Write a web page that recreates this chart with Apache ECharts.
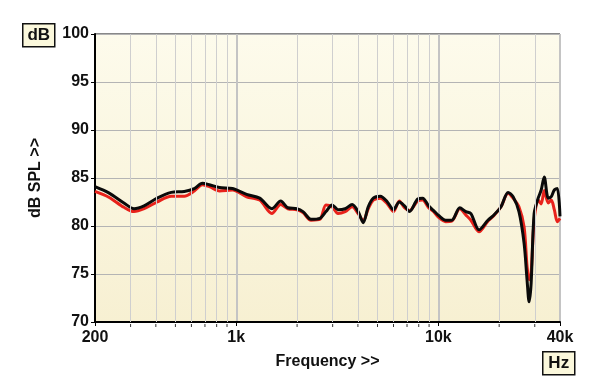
<!DOCTYPE html>
<html>
<head>
<meta charset="utf-8">
<script src="https://cdn.jsdelivr.net/npm/echarts@6/dist/echarts.min.js"></script>
<style>
  html, body { margin: 0; padding: 0; background: #fff; }
  #chart { width: 600px; height: 389px; }
</style>
</head>
<body>
<div id="chart"></div>
<script>
// frequency points (Hz)
var freqs = [200, 234, 278, 312, 350, 406, 477, 553, 620, 680, 736, 826, 959, 1125, 1306, 1500,
    1660, 1800, 1995, 2138, 2344, 2595, 2780, 2980, 3190, 3458, 3747, 4010, 4250, 4500, 4766,
    5164, 5596, 5995, 6412, 6796, 7200, 7890, 8360, 8950, 9480, 10030, 10870, 11650, 12770,
    13680, 14490, 15890, 17590, 18850, 20420, 22130, 23440, 25060, 26570, 27480, 28130, 28780,
    29790, 31190, 32290, 33420, 34990, 36220, 37490, 38810, 40000];

var blackDb = [84.1, 83.45, 82.4, 81.8, 82.1, 82.9, 83.5, 83.6, 83.9, 84.45, 84.3, 84.0, 83.9, 83.3, 82.9, 81.8,
    82.6, 81.9, 81.8, 81.5, 80.7, 80.8, 81.5, 82.2, 81.7, 81.8, 82.25, 81.5, 80.35, 82.0, 82.9,
    83.1, 82.5, 81.7, 82.5, 82.1, 81.5, 82.8, 82.9, 82.1, 81.6, 81.1, 80.6, 80.6, 81.9,
    81.5, 81.3, 79.6, 80.6, 81.15, 82.0, 83.5, 83.05, 81.5, 78.2, 74.4, 72.1, 74.0,
    81.3, 82.9, 83.75, 85.1, 82.9, 83.05, 83.75, 83.9, 81.0];

var redDb = [83.6, 83.0, 81.95, 81.5, 81.8, 82.5, 83.1, 83.1, 83.65, 84.3, 84.1, 83.65, 83.75, 83.05, 82.7, 81.3,
    82.25, 81.8, 81.7, 81.4, 80.6, 80.7, 82.2, 82.0, 81.3, 81.5, 82.0, 81.3, 80.55, 81.8, 82.7,
    82.9, 82.3, 81.5, 82.6, 81.9, 81.6, 82.6, 82.7, 81.9, 81.5, 80.9, 80.45, 80.5, 81.8,
    81.15, 80.6, 79.4, 80.5, 81.1, 82.0, 83.4, 82.9, 82.0, 79.9, 75.8, 74.4, 75.1,
    80.6, 82.7, 82.3, 83.7, 82.4, 82.7, 81.7, 80.45, 80.8];

// light vertical grid lines between the labelled decades
var gridFreqs = [300, 400, 500, 600, 700, 800, 900, 2000, 3000, 4000, 5000, 6000, 7000, 8000, 9000, 20000, 30000];

var yTicks = [70, 75, 80, 85, 90, 95, 100];

function pairs(xs, ys) {
    var out = [];
    for (var i = 0; i < xs.length; i++) {
        out.push([xs[i], ys[i]]);
    }
    return out;
}

function kLabel(v) {
    if (v >= 1000) return Math.round(v / 1000) + 'k';
    return String(Math.round(v));
}

var font = 'Liberation Sans, Arial, sans-serif';
var myChart = echarts.init(document.getElementById('chart'));

function unitBox(left, top, text) {
    return {
        type: 'group',
        left: left,
        top: top,
        children: [
            {type: 'rect', shape: {x: 0, y: 0, width: 32, height: 23},
                style: {fill: '#fbf8dc', stroke: '#111', lineWidth: 1.5}},
            {type: 'text', x: 16, y: 12,
                style: {text: text, fontFamily: font, fontWeight: 'bold', fontSize: 17,
                    fill: '#111', align: 'center', verticalAlign: 'middle'}}
        ]
    };
}

var option = {
    animation: false,
    backgroundColor: '#ffffff',
    grid: {
        left: 95,
        right: 40,
        top: 34,
        bottom: 67,
        show: true,
        borderColor: '#111',
        borderWidth: 1,
        backgroundColor: new echarts.graphic.LinearGradient(0, 0, 0, 1, [
            {offset: 0, color: '#fdfbec'},
            {offset: 1, color: '#f7f0d2'}
        ])
    },
    xAxis: {
        type: 'log',
        logBase: 10,
        min: 200,
        max: 40000,
        name: 'Frequency >>',
        nameLocation: 'middle',
        nameGap: 32,
        nameTextStyle: {fontFamily: font, fontWeight: 'bold', fontSize: 16, color: '#111'},
        axisLine: {show: true, lineStyle: {color: '#000', width: 2}},
        axisTick: {show: true, length: 4, lineStyle: {color: '#000'}},
        axisLabel: {
            show: true,
            showMinLabel: true,
            showMaxLabel: true,
            margin: 8,
            fontFamily: font,
            fontWeight: 'bold',
            fontSize: 16,
            color: '#111',
            formatter: kLabel
        },
        splitLine: {show: true, lineStyle: {color: '#c4c4c4', width: 2}}
    },
    yAxis: {
        type: 'value',
        min: yTicks[0],
        max: yTicks[yTicks.length - 1],
        interval: 5,
        name: 'dB SPL >>',
        nameLocation: 'middle',
        nameRotate: 90,
        nameGap: 51,
        nameTextStyle: {fontFamily: font, fontWeight: 'bold', fontSize: 16, color: '#111'},
        axisLine: {show: true, lineStyle: {color: '#000', width: 2}},
        axisTick: {show: true, length: 4, lineStyle: {color: '#000'}},
        axisLabel: {
            margin: 6,
            fontFamily: font,
            fontWeight: 'bold',
            fontSize: 16,
            color: '#111'
        },
        splitLine: {show: true, lineStyle: {color: '#b4b4b4', width: 1}}
    },
    graphic: [
        unitBox(22, 23, 'dB'),
        unitBox(542, 351, 'Hz')
    ],
    series: [
        {
            name: 'grid',
            type: 'line',
            data: [],
            z: 1,
            silent: true,
            markLine: {
                silent: true,
                symbol: 'none',
                label: {show: false},
                lineStyle: {color: '#cfcfcf', width: 1, type: 'solid'},
                data: gridFreqs.map(function (f) { return {xAxis: f}; })
            }
        },
        {
            // small tick marks under the axis at the minor grid lines
            name: 'minorTicks',
            type: 'custom',
            silent: true,
            clip: false,
            z: 5,
            data: gridFreqs.map(function (f) { return [f, yTicks[0]]; }),
            renderItem: function (params, api) {
                var p = api.coord([api.value(0), api.value(1)]);
                return {
                    type: 'line',
                    shape: {x1: p[0], y1: p[1] + 2, x2: p[0], y2: p[1] + 5},
                    style: {stroke: '#333', lineWidth: 1}
                };
            }
        },
        {
            name: 'Red',
            type: 'line',
            data: pairs(freqs, redDb),
            showSymbol: false,
            smooth: 0.3,
            z: 3,
            lineStyle: {color: '#e8221b', width: 3}
        },
        {
            name: 'Black',
            type: 'line',
            data: pairs(freqs, blackDb),
            showSymbol: false,
            smooth: 0.3,
            z: 4,
            lineStyle: {color: '#0a0a0a', width: 3}
        }
    ]
};

myChart.setOption(option);
</script>
</body>
</html>
